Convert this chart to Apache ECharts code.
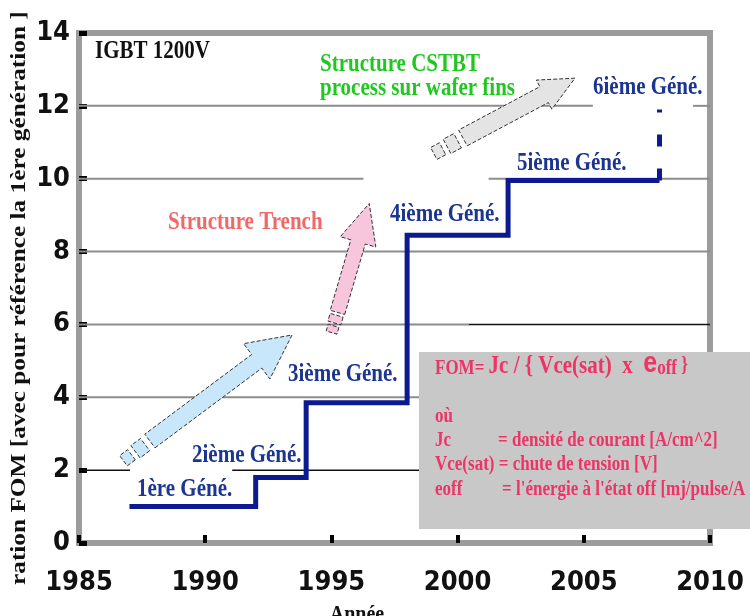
<!DOCTYPE html>
<html><head><meta charset="utf-8">
<script src="https://cdn.jsdelivr.net/npm/echarts@6/dist/echarts.min.js"></script>
<style>html,body{margin:0;padding:0;background:#fff}#c{width:750px;height:616px}</style>
</head><body><div id="c"></div>
<script>
// ---- data ----
const xTicks = [1985, 1990, 1995, 2000, 2005, 2010];
const yTicks = [0, 2, 4, 6, 8, 10, 12, 14];
const genYears = [1987, 1992, 1994, 1998, 2002, 2008];
const genFOM = [1, 1.8, 3.85, 8.45, 9.95, 9.95];
const projYears = [2008, 2008];
const projFOM = [9.95, 11.9];
const genLabels = ['1ère Géné.', '2ième Géné.', '3ième Géné.', '4ième Géné.', '5ième Géné.', '6ième Géné.'];
// reference grid line pieces
const gridY = [12, 12, 10, 10, 8, 6, 6, 4, 2, 2];
const gridFrom = [1985, 2009.33, 1985, 2001.23, 1985, 1985, 2000.44, 1985, 1985, 1991.07];
const gridTo = [2005.36, 2010, 1996.27, 2010, 2010, 2000.44, 2010, 2010, 1987.02, 2010];
const gridDark = [0, 0, 0, 0, 0, 0, 1, 0, 1, 1];
// technology arrows (tail, tip) in data space
const arrowTail = [[1987.81, 2.80], [1995.24, 6.33], [2000.21, 11.12]];
const arrowTip = [[1993.44, 5.71], [1996.50, 9.32], [2004.65, 12.76]];

const SERIF = "'Liberation Serif','Times New Roman',serif";
const NARROW = "'Liberation Sans Narrow','DejaVu Sans Condensed',sans-serif";
const BLUE_TXT = '#1b3591';
const LINE_BLUE = '#0c1a8f';
const PINK = '#ee3366';

const chart = echarts.init(document.getElementById('c'), null, {renderer: 'canvas'});

const series = [];
gridY.forEach((y, i) => {
  series.push({
    type: 'line', silent: true, symbol: 'none', z: 1, animation: false,
    data: [[gridFrom[i], y], [gridTo[i], y]],
    lineStyle: gridDark[i] ? {color: '#111', width: 1.5} : {color: '#8c8c8c', width: 2}
  });
});
series.push({
  type: 'line', step: 'end', symbol: 'none', z: 5, animation: false,
  data: genYears.map((x, i) => [x, genFOM[i]]),
  lineStyle: {color: LINE_BLUE, width: 5, join: 'miter', cap: 'butt'}
});
series.push({
  type: 'line', symbol: 'none', z: 5, animation: false,
  data: projYears.map((x, i) => [x, projFOM[i]]),
  lineStyle: {color: LINE_BLUE, width: 5, type: [12, 22], cap: 'butt'}
});

chart.setOption({
  animation: false,
  backgroundColor: '#ffffff',
  grid: {left: 79, right: 40, top: 33, bottom: 73, show: true, borderColor: '#9c9c9c', borderWidth: 6, backgroundColor: 'transparent'},
  xAxis: {
    type: 'value', min: xTicks[0], max: xTicks[xTicks.length - 1], interval: 5,
    axisLine: {show: false},
    axisTick: {show: true, inside: true, length: 8, lineStyle: {color: '#000', width: 4}},
    splitLine: {show: false},
    axisLabel: {margin: 26, color: '#111', fontFamily: NARROW, fontWeight: 'bold', fontSize: 27, formatter: v => String(v)}
  },
  yAxis: {
    type: 'value', min: yTicks[0], max: yTicks[yTicks.length - 1], interval: 2,
    axisLine: {show: false},
    axisTick: {show: true, inside: true, length: 8, lineStyle: {color: '#000', width: 5}},
    splitLine: {show: false},
    axisLabel: {margin: 9, color: '#111', fontFamily: NARROW, fontWeight: 'bold', fontSize: 27, padding: [10, 0, 0, 0]}
  },
  series: series
});

function px(p) { return chart.convertToPixel({gridIndex: 0}, p); }

const arrowStyle = [
  {fill: '#c9e7fb', w: 17, hw: 44, hl: 44, g1: 6, l1: 12, g2: 5, l2: 10},
  {fill: '#f8c6dc', w: 15, hw: 37, hl: 40, g1: 3, l1: 8, g2: 3, l2: 7},
  {fill: '#e4e4e4', w: 18, hw: 33, hl: 35, g1: 6, l1: 12, g2: 5, l2: 10}
];

const graphics = [];
arrowTail.forEach((tl, i) => {
  const s = arrowStyle[i];
  const t = px(tl), h = px(arrowTip[i]);
  const dx = h[0] - t[0], dy = h[1] - t[1];
  const L = Math.hypot(dx, dy);
  const u = [dx / L, dy / L], n = [-u[1], u[0]];
  const P = (o, along, side) => [o[0] + u[0] * along + n[0] * side, o[1] + u[1] * along + n[1] * side];
  const b = P(h, -s.hl, 0);
  const pts = [P(t, 0, s.w / 2), P(b, 0, s.w / 2), P(b, 0, s.hw / 2), h, P(b, 0, -s.hw / 2), P(b, 0, -s.w / 2), P(t, 0, -s.w / 2)];
  const st = {fill: s.fill, stroke: '#333', lineWidth: 1, lineDash: [4, 2]};
  graphics.push({type: 'polygon', z: 50, silent: true, shape: {points: pts}, style: st});
  const a1 = -s.g1, a2 = a1 - s.l1, a3 = a2 - s.g2, a4 = a3 - s.l2;
  const w1 = s.w * 0.9 / 2, w2 = s.w * 0.75 / 2;
  graphics.push({type: 'polygon', z: 50, silent: true, shape: {points: [P(t, a1, w1), P(t, a2, w1), P(t, a2, -w1), P(t, a1, -w1)]}, style: st});
  graphics.push({type: 'polygon', z: 50, silent: true, shape: {points: [P(t, a3, w2), P(t, a4, w2), P(t, a4, -w2), P(t, a3, -w2)]}, style: st});
});

function txt(x, y, text, size, color, extra) {
  return Object.assign({
    type: 'text', x: x, y: y, z: 60, silent: true, scaleY: 1.2,
    style: {text: text, fill: color, font: 'bold ' + size + 'px ' + SERIF, align: 'left', verticalAlign: 'middle'}
  }, extra || {});
}

const genPos = [[137, 489], [192, 455], [288, 374], [390, 214], [517, 163], [593, 87]];
genLabels.forEach((lab, i) => graphics.push(txt(genPos[i][0], genPos[i][1], lab, 21, BLUE_TXT)));

graphics.push(txt(95, 51, 'IGBT 1200V', 21, '#111'));
graphics.push(txt(320, 64, 'Structure CSTBT', 21, '#1ec81e'));
graphics.push(txt(320, 88, 'process sur wafer fins', 21, '#1ec81e'));
graphics.push(txt(168, 222, 'Structure Trench', 21, '#f06868'));

// FOM box
graphics.push({type: 'rect', z: 70, silent: true, shape: {x: 419, y: 352, width: 340, height: 177}, style: {fill: '#c8c8c8'}});
graphics.push({
  type: 'text', x: 435, y: 366, z: 80, silent: true, scaleY: 1.2,
  style: {
    text: '{a|FOM= }{b|Jc / { Vce(sat)  x  }{c|e}{d|off }{d|}}',
    font: 'bold 17px ' + SERIF, fill: PINK,
    verticalAlign: 'middle', align: 'left',
    rich: {
      a: {font: 'bold 17px ' + SERIF, fill: PINK, lineHeight: 17, verticalAlign: 'bottom'},
      b: {font: 'bold 21px ' + SERIF, fill: PINK, lineHeight: 21, verticalAlign: 'bottom'},
      c: {font: 'bold 25px ' + "'Liberation Sans',Arial,sans-serif", fill: PINK, lineHeight: 21, verticalAlign: 'bottom'},
      d: {font: 'bold 17px ' + SERIF, fill: PINK, lineHeight: 17, verticalAlign: 'bottom'}
    }
  }
});
graphics.push(Object.assign(txt(435, 417, 'où', 17, PINK), {z: 80}));
graphics.push(Object.assign(txt(435, 441, 'Jc', 17, PINK), {z: 80}));
graphics.push(Object.assign(txt(498, 441, '= densité de courant [A/cm^2]', 17, PINK), {z: 80}));
graphics.push(Object.assign(txt(435, 465, 'Vce(sat) = chute de tension [V]', 17, PINK), {z: 80}));
graphics.push(Object.assign(txt(435, 490, 'eoff', 17, PINK), {z: 80}));
graphics.push(Object.assign(txt(502, 490, "= l'énergie à l'état off [mj/pulse/A", 17, PINK), {z: 80}));

// axis titles
graphics.push({
  type: 'text', x: 19, y: 585, z: 60, silent: true, rotation: Math.PI / 2, scaleX: 1.15,
  style: {text: 'ration FOM [avec pour référence la 1ère génération ]', fill: '#111', font: 'bold 22px ' + SERIF, align: 'left', verticalAlign: 'middle'}
});
graphics.push(txt(357, 603, 'Année', 20, '#111', {}));
graphics[graphics.length - 1].style.align = 'center';
graphics[graphics.length - 1].style.verticalAlign = 'top';

chart.setOption({graphic: {elements: graphics}});
</script></body></html>
